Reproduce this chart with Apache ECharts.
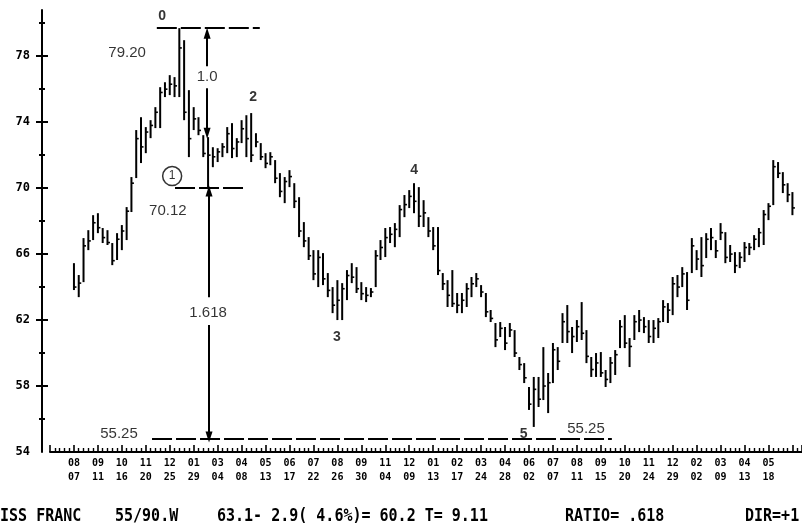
<!DOCTYPE html>
<html><head><meta charset="utf-8">
<script src="https://cdn.jsdelivr.net/npm/echarts@6/dist/echarts.min.js"></script>
<style>html,body{margin:0;padding:0;background:#fff}#c{width:802px;height:529px}</style>
</head><body><div id="c"></div>
<script>
// Weekly bars, week index 0 = 08/07 (1987)
const highs = [65.45,64.73,66.97,67.45,68.36,68.48,67.58,67.45,66.67,67.27,
67.76,68.85,70.67,73.52,74.30,73.70,74.12,74.91,76.12,76.42,
76.85,76.73,79.70,78.97,75.94,74.91,74.30,73.21,73.09,72.48,
72.42,72.73,73.70,73.94,73.03,74.12,74.42,74.55,73.33,72.73,
72.12,72.18,71.70,70.91,70.67,71.09,70.30,69.45,67.94,67.03,
66.24,66.24,66.06,64.85,64.00,64.42,64.24,65.03,65.45,65.21,
64.30,64.00,63.94,66.24,66.85,67.58,67.64,67.88,68.97,69.58,
69.88,70.30,70.06,69.27,68.24,67.64,67.64,64.85,64.42,65.03,
63.64,63.64,64.24,64.61,64.85,64.12,63.64,62.61,61.82,61.88,
61.58,61.82,61.39,59.76,59.39,57.94,58.55,58.55,60.36,58.79,
60.61,60.36,62.42,62.91,61.58,62.00,63.09,61.39,59.76,60.00,
60.06,58.97,59.76,60.18,62.00,62.30,60.91,62.30,62.61,62.18,
62.00,62.00,62.12,63.21,63.03,64.61,64.73,65.21,64.91,66.97,
66.24,67.03,67.27,67.58,66.85,67.88,67.33,66.55,66.12,66.12,
66.73,66.67,67.15,67.58,68.67,69.09,71.70,71.58,70.97,70.30,
69.76];
const lows = [63.82,63.39,64.30,66.24,66.85,67.27,66.67,66.55,65.33,65.64,
66.24,66.85,68.55,70.61,71.52,72.12,73.03,73.64,73.64,75.52,
75.64,75.52,75.52,74.12,71.88,73.52,73.21,71.88,70.06,71.27,
71.58,71.88,72.12,71.82,71.88,72.73,71.88,71.58,72.48,71.70,
71.21,71.39,70.30,69.45,69.09,70.06,68.79,67.03,66.42,65.64,
64.42,64.00,64.12,63.39,62.42,62.00,62.00,63.21,64.24,63.64,
63.21,63.09,63.39,64.00,65.64,65.82,66.67,66.42,67.03,68.24,
68.79,68.48,67.64,67.64,67.03,66.24,64.73,63.82,62.79,62.79,
62.42,62.42,62.79,63.39,64.00,63.39,62.18,61.88,60.36,60.97,
60.18,60.97,59.76,58.97,58.18,56.55,55.52,56.73,57.15,56.36,
58.18,58.97,60.61,60.61,60.00,60.67,60.79,59.39,58.55,58.55,
58.55,57.94,58.18,58.67,60.30,60.30,59.15,60.79,61.27,61.21,
60.61,60.61,60.91,61.88,61.82,62.30,63.39,64.00,62.61,64.85,
65.03,64.61,65.76,66.24,65.76,66.85,65.45,65.52,64.85,65.15,
65.52,65.94,66.24,66.42,66.55,68.06,68.97,70.61,69.70,69.15,
68.36];
const closes = [64.0,64.24,66.5,66.8,67.9,67.6,67.0,66.7,65.6,66.9,
67.4,68.6,70.3,73.0,72.5,73.4,73.8,74.6,75.8,76.0,
76.3,76.2,78.5,74.6,73.0,74.2,73.5,72.1,72.0,71.9,
72.2,72.5,73.3,72.4,72.8,73.6,73.0,72.0,72.8,71.9,
71.5,71.9,70.6,69.8,70.4,70.7,69.2,67.4,66.8,65.9,
64.8,65.8,64.5,63.8,62.9,63.2,63.9,64.7,64.6,63.9,
63.6,63.5,63.7,65.9,66.4,67.0,67.2,67.5,68.7,69.0,
69.5,69.2,68.3,68.5,67.4,66.5,65.0,64.2,63.5,63.0,
62.9,63.2,63.9,64.2,64.5,63.7,62.5,62.1,60.8,61.5,
60.6,61.4,60.0,59.3,58.5,56.9,57.8,57.2,58.0,58.2,
60.2,59.5,61.9,61.3,61.0,61.6,61.2,59.8,59.0,59.4,
58.8,58.4,59.4,59.9,61.6,60.6,60.4,61.9,62.0,61.6,
61.0,61.5,61.9,62.8,62.6,64.2,64.0,64.8,63.2,66.5,
65.7,65.3,66.9,67.0,66.2,67.3,65.8,66.0,65.3,65.8,
66.4,66.4,66.9,67.3,68.4,68.9,71.3,70.9,70.2,69.6,
68.8];
// tick labels, one every 5 weeks from week 0
const monthLabels = ['08','09','10','11','12','01','03','04','05','06','07','08','09','11','12','01','02','03','04','06','07','08','09','10','11','12','02','03','04','05'];
const dayLabels   = ['07','11','16','20','25','29','04','08','13','17','22','26','30','04','09','13','17','24','28','02','07','11','15','20','24','29','02','09','13','18'];
const yLabelValues = [54,58,62,66,70,74,78];
const yMinorValues = [56,60,64,68,72,76,80];
// Fibonacci levels as drawn, with their printed values
const levelValues = [79.70, 70.00, 54.79];
const levelTexts  = ['79.20','70.12','55.25'];
const levelFrom   = [17.3, 21.1, 16.3];
const levelTo     = [38.8, 35.3, 112.3];
// wave / note labels: [week, value, text]
const waveNotes = [[18.4,80.42,'0'],[37.4,75.52,'2'],[54.9,60.97,'3'],[71.0,71.09,'4'],[93.9,55.09,'5']];
const numNotes  = [[11.1,78.18,levelTexts[0]],[27.8,76.73,'1.0'],[19.6,68.6,levelTexts[1]],[28.0,62.42,'1.618'],[9.4,55.09,levelTexts[2]],[106.9,55.39,levelTexts[2]]];
const circleNote = [[20.5,70.73,'1']];
// arrows: [week, fromValue, toValue]
const arrows = [[27.8,77.39,79.39],[27.8,76.06,73.33],[28.2,63.39,69.82],[28.2,61.70,54.91]];

const chart = echarts.init(document.getElementById('c'), null, {renderer:'canvas'});
const bars = highs.map((h,i)=>[i,h,lows[i],closes[i]]);
const mono = 'DejaVu Sans Mono';
function yAx(extra){
  return Object.assign({type:'value',min:54,max:80.8,position:'left',offset:8,
    axisLine:{show:false,onZero:false},axisLabel:{show:false},splitLine:{show:false},
    axisTick:{show:false}}, extra);
}
const tickStyle = {color:'#000',width:2};
const option = {
  animation:false,
  backgroundColor:'#fff',
  grid:{left:50,right:0,top:10,bottom:77},
  xAxis:{type:'value',min:-5,max:152,interval:5,
    axisLine:{show:true,onZero:false,lineStyle:{color:'#000',width:2}},
    axisTick:{show:true,inside:true,length:7,lineStyle:{color:'#000',width:1.6}},
    minorTick:{show:true,splitNumber:5,length:4,lineStyle:{color:'#000',width:1.4}},
    splitLine:{show:false},
    axisLabel:{margin:4,fontFamily:mono,fontWeight:'bold',fontSize:10,lineHeight:14,color:'#000',
      showMinLabel:false,showMaxLabel:false,
      formatter:v=>{ if(v<0||v%5) return ''; const k=v/5; if(k>=monthLabels.length) return ''; return monthLabels[k]+'\n'+dayLabels[k]; }}
  },
  yAxis:[
    yAx({axisLine:{show:true,onZero:false,lineStyle:{color:'#000',width:2}},
      axisLabel:{show:true,customValues:yLabelValues,margin:12,fontFamily:mono,fontWeight:'bold',fontSize:12,color:'#000'},
      axisTick:{show:true,customValues:yLabelValues.slice(1),length:6,lineStyle:tickStyle}}),
    yAx({axisTick:{show:true,inside:true,customValues:yLabelValues.slice(1),length:6,lineStyle:tickStyle}}),
    yAx({axisTick:{show:true,customValues:yMinorValues,length:3,lineStyle:tickStyle}}),
    yAx({axisTick:{show:true,inside:true,customValues:yMinorValues,length:3,lineStyle:tickStyle}})
  ],
  series:[
    {type:'custom',name:'SWISS FRANC',data:bars,clip:false,
      renderItem:(p,api)=>{
        const x=api.value(0),h=api.value(1),l=api.value(2),c=api.value(3);
        const pH=api.coord([x,h]),pL=api.coord([x,l]),pC=api.coord([x,c]);
        return {type:'group',children:[
          {type:'line',shape:{x1:pH[0],y1:pH[1],x2:pL[0],y2:pL[1]},style:{stroke:'#000',lineWidth:2}},
          {type:'line',shape:{x1:pC[0],y1:pC[1],x2:pC[0]+2.5,y2:pC[1]},style:{stroke:'#000',lineWidth:1.6}}
        ]};
      },
      markLine:{silent:true,symbol:'none',label:{show:false},
        lineStyle:{color:'#000',width:2,type:[20,4]},
        data:levelValues.map((v,i)=>[{coord:[levelFrom[i],v]},{coord:[levelTo[i],v]}])}
    },
    {type:'line',data:[],markLine:{silent:true,label:{show:false},symbol:['none','triangle'],symbolSize:[7,11],
      lineStyle:{color:'#000',width:2,type:'solid'},itemStyle:{color:'#000'},
      data:arrows.map(a=>[{coord:[a[0],a[1]]},{coord:[a[0],a[2]]}])}},
    {type:'scatter',symbolSize:0,silent:true,data:waveNotes.map(n=>({value:[n[0],n[1]],name:n[2]})),
      label:{show:true,position:'inside',formatter:'{b}',color:'#000',fontFamily:'Liberation Sans',fontWeight:'bold',fontSize:14}},
    {type:'scatter',symbolSize:0,silent:true,data:numNotes.map(n=>({value:[n[0],n[1]],name:n[2]})),
      label:{show:true,position:'inside',formatter:'{b}',color:'#000',fontFamily:'Liberation Sans',fontSize:15,backgroundColor:'#fff'}},
    {type:'scatter',symbol:'circle',symbolSize:19,silent:true,data:circleNote.map(n=>({value:[n[0],n[1]],name:n[2]})),
      itemStyle:{color:'#fff',borderColor:'#000',borderWidth:1.5},
      label:{show:true,position:'inside',formatter:'{b}',color:'#000',fontFamily:'Liberation Sans',fontSize:12}}
  ],
  graphic:[
    {type:'text',left:-18,top:508,scaleY:1.15,style:{text:'SWISS FRANC',font:'bold 15px "DejaVu Sans Mono"',fill:'#000'}},
    {type:'text',left:115,top:508,scaleY:1.15,style:{text:'55/90.W',font:'bold 15px "DejaVu Sans Mono"',fill:'#000'}},
    {type:'text',left:217,top:508,scaleY:1.15,style:{text:'63.1- 2.9( 4.6%)= 60.2 T= 9.11',font:'bold 15px "DejaVu Sans Mono"',fill:'#000'}},
    {type:'text',left:565,top:508,scaleY:1.15,style:{text:'RATIO= .618',font:'bold 15px "DejaVu Sans Mono"',fill:'#000'}},
    {type:'text',left:745,top:508,scaleY:1.15,style:{text:'DIR=+1',font:'bold 15px "DejaVu Sans Mono"',fill:'#000'}}
  ]
};
chart.setOption(option);
</script></body></html>
